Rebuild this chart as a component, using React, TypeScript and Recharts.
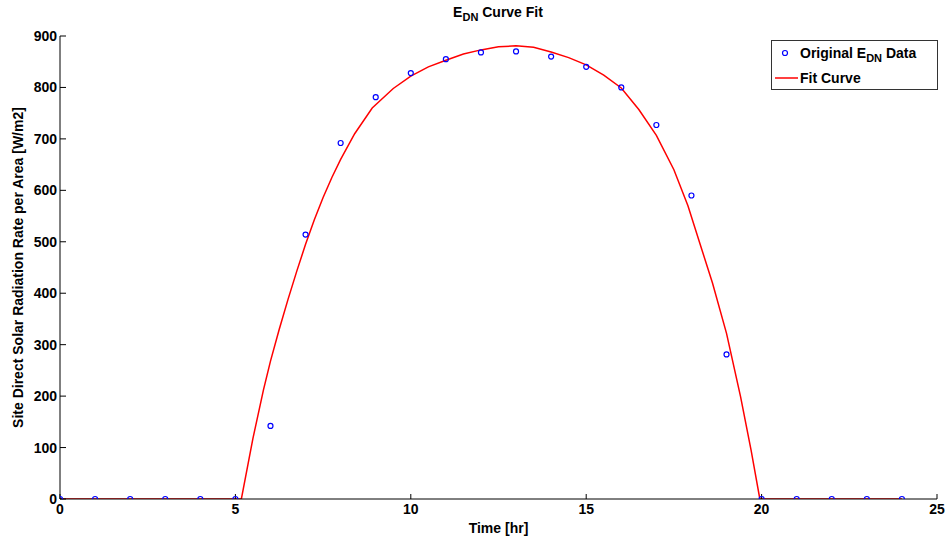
import React from 'react';
import { ComposedChart, Line, Scatter, XAxis, YAxis } from 'recharts';

const hours = [0, 1, 2, 3, 4, 5, 6, 7, 8, 9, 10, 11, 12, 13, 14, 15, 16, 17, 18, 19, 20, 21, 22, 23, 24];
const ednValues = [0, 0, 0, 0, 0, 0, 142, 514, 692, 781, 828, 855, 868, 870, 860, 840, 800, 727, 590, 281, 0, 0, 0, 0, 0];

const fitHours = [0, 5.17, 5.5, 5.8, 6.0, 6.25, 6.5, 6.75, 7.0, 7.25, 7.5, 7.75, 8.0, 8.4, 8.9, 9.5, 10.0, 10.5, 11.0, 11.5, 12.0, 12.5, 13.0, 13.5, 14.0, 14.5, 15.0, 15.5, 16.0, 16.5, 17.0, 17.5, 17.9, 18.3, 18.6, 19.0, 19.4, 19.7, 19.95, 24];
const fitValues = [0, 0, 118, 212, 268, 330, 388, 443, 495, 543, 586, 625, 660, 710, 760, 798, 822, 840, 853, 865, 873, 879, 881, 878, 869, 858, 844, 824, 799, 757, 707, 640, 570, 484, 420, 322, 199, 95, 0, 0];

const xTicks = [0, 5, 10, 15, 20, 25];
const yTicks = [0, 100, 200, 300, 400, 500, 600, 700, 800, 900];

const FONT = '"Liberation Sans", Arial, sans-serif';

const pointData = hours.map((h, i) => ({ x: h, y: ednValues[i] }));
const fitData = fitHours.map((h, i) => ({ x: h, y: fitValues[i] }));

const OpenCircle = (props: any) => {
  const { cx, cy } = props;
  if (cx == null || cy == null) return null;
  return <circle cx={cx} cy={cy} r={2.5} fill="none" stroke="#0000ff" strokeWidth={1.2} />;
};

const LegendBox = () => (
  <svg width={167} height={50} style={{ display: 'block' }}>
    <rect x={0.5} y={0.5} width={166} height={49} fill="#fff" stroke="#333" strokeWidth={1} />
    <circle cx={14} cy={13} r={2.5} fill="none" stroke="#0000ff" strokeWidth={1.2} />
    <text x={29} y={18} fontFamily={FONT} fontWeight="bold" fontSize={14} fill="#000">
      Original E<tspan dy={4} fontSize={11}>DN</tspan><tspan dy={-4}> Data</tspan>
    </text>
    <line x1={4} x2={27} y1={38} y2={38} stroke="#ff0000" strokeWidth={1.5} />
    <text x={29} y={43} fontFamily={FONT} fontWeight="bold" fontSize={14} fill="#000">Fit Curve</text>
  </svg>
);

export default function App() {
  return (
    <div style={{ position: 'absolute', left: 0, top: 0, width: 948, height: 542, background: '#fff' }}>
      <ComposedChart
        width={948}
        height={542}
        margin={{ top: 36, right: 11, bottom: 0, left: 0 }}
        style={{ fontFamily: FONT }}
      >
        <XAxis
          dataKey="x"
          type="number"
          domain={[0, 25]}
          ticks={xTicks}
          allowDataOverflow
          height={43}
          tickSize={-5}
          tickMargin={10}
          stroke="#000"
          tick={{ fill: '#000', fontSize: 14, fontWeight: 'bold', fontFamily: FONT }}
          label={{ value: 'Time [hr]', position: 'insideBottom', offset: 9, fill: '#000', fontSize: 14, fontWeight: 'bold', fontFamily: FONT }}
        />
        <YAxis
          dataKey="y"
          type="number"
          domain={[0, 900]}
          ticks={yTicks}
          allowDataOverflow
          width={60}
          tickSize={-6}
          tickMargin={9}
          stroke="#000"
          tick={{ fill: '#000', fontSize: 14, fontWeight: 'bold', fontFamily: FONT }}
          label={{ value: 'Site Direct Solar Radiation Rate per Area [W/m2]', angle: -90, position: 'insideLeft', offset: 18, style: { textAnchor: 'middle' }, fill: '#000', fontSize: 14, fontWeight: 'bold', fontFamily: FONT }}
        />
        <Line
          data={fitData}
          dataKey="y"
          type="linear"
          stroke="#ff0000"
          strokeWidth={1.5}
          dot={false}
          activeDot={false}
          isAnimationActive={false}
          name="Fit Curve"
        />
        <Scatter
          data={pointData}
          dataKey="y"
          shape={OpenCircle}
          isAnimationActive={false}
          name="Original EDN Data"
        />
      </ComposedChart>
      <div style={{ position: 'absolute', left: 771, top: 40 }}>
        <LegendBox />
      </div>
      <svg width={948} height={30} style={{ position: 'absolute', left: 0, top: 0, pointerEvents: 'none' }}>
        <text x={498} y={17} textAnchor="middle" fontFamily={FONT} fontWeight="bold" fontSize={14} fill="#000">
          E<tspan dy={4} fontSize={11}>DN</tspan><tspan dy={-4}> Curve Fit</tspan>
        </text>
      </svg>
    </div>
  );
}
